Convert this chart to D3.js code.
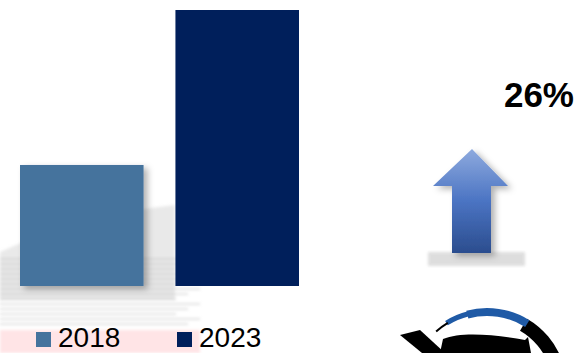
<!DOCTYPE html>
<html lang="en">
<head>
  <meta charset="UTF-8">
  <title>2018 vs 2023</title>
  <script src="https://d3js.org/d3.v7.min.js"></script>
  <style>
    body { margin: 0; background: #fff; font-family: "Liberation Sans", Arial, sans-serif; }
    svg { display: block; }
  </style>
</head>
<body>
  <svg id="chart" width="578" height="353"></svg>

  <script>
    // data (no axis shown, relative index values)
    const years = ["2018", "2023"];
    const values = [100, 126];
    const colors = ["#45739d", "#001f5b"];
    const changeLabel = "26%";

    const svg = d3.select("#chart");
    const defs = svg.append("defs");

    // soft shadow for bars and arrow
    const shadow = defs.append("filter").attr("id", "shadow")
      .attr("x", "-20%").attr("y", "-20%").attr("width", "150%").attr("height", "150%");
    shadow.append("feDropShadow")
      .attr("dx", 4).attr("dy", 3).attr("stdDeviation", 3)
      .attr("flood-color", "#000").attr("flood-opacity", 0.3);

    const blur = defs.append("filter").attr("id", "blur");
    blur.append("feGaussianBlur").attr("stdDeviation", 1.5);

    // faded background picture behind the bars (grey/red streaks)
    const bg = svg.append("g").attr("filter", "url(#blur)");
    bg.append("path")
      .attr("d", "M0,252 Q80,215 175,205 L175,300 L0,300 Z")
      .attr("fill", "#d4d4d4").attr("opacity", 0.5);
    d3.range(0, 14).forEach(i => {
      bg.append("rect")
        .attr("x", 0).attr("y", 258 + i * 5)
        .attr("width", 200 - (i % 3) * 12).attr("height", 2)
        .attr("fill", "#b8b8b8").attr("opacity", 0.4);
    });
    bg.append("rect")
      .attr("x", 0).attr("y", 330).attr("width", 200).attr("height", 23)
      .attr("fill", "#ffc4c8").attr("opacity", 0.45);

    const x = d3.scaleBand()
      .domain(years)
      .range([20, 299])
      .paddingInner(0.205)
      .paddingOuter(0);

    const y = d3.scaleLinear()
      .domain([79.7, 126])
      .range([286, 10]);

    svg.append("g").selectAll("rect")
      .data(years)
      .join("rect")
      .attr("x", d => x(d))
      .attr("y", (d, i) => y(values[i]))
      .attr("width", x.bandwidth())
      .attr("height", (d, i) => y.range()[0] - y(values[i]))
      .attr("fill", (d, i) => colors[i])
      .attr("filter", (d, i) => i === 0 ? "url(#shadow)" : null);

    // legend
    const legend = svg.append("g");
    const legendX = [36, 177];
    years.forEach((key, i) => {
      legend.append("rect")
        .attr("x", legendX[i]).attr("y", 332)
        .attr("width", 15).attr("height", 15)
        .attr("fill", colors[i]);
      legend.append("text")
        .attr("x", legendX[i] + 22).attr("y", 347)
        .attr("font-size", 28)
        .attr("fill", "#000")
        .text(key);
    });

    // change label
    svg.append("text")
      .attr("x", 574).attr("y", 107)
      .attr("text-anchor", "end")
      .attr("font-size", 35)
      .attr("font-weight", "bold")
      .attr("fill", "#000")
      .text(changeLabel);

    // up arrow with gradient
    const grad = defs.append("linearGradient").attr("id", "arrowGrad")
      .attr("x1", 0).attr("y1", 0).attr("x2", 0).attr("y2", 1);
    grad.append("stop").attr("offset", "0%").attr("stop-color", "#8eaade");
    grad.append("stop").attr("offset", "50%").attr("stop-color", "#4b74c3");
    grad.append("stop").attr("offset", "100%").attr("stop-color", "#2b4d8e");

    svg.append("rect")
      .attr("x", 428).attr("y", 252).attr("width", 97).attr("height", 14)
      .attr("fill", "#d0d0d0").attr("filter", "url(#blur)").attr("opacity", 0.7);

    svg.append("path")
      .attr("d", "M472,149 L508,186 L491,186 L491,253 L452,253 L452,186 L433,186 Z")
      .attr("fill", "url(#arrowGrad)")
      .attr("filter", "url(#shadow)");

    // partial logo at bottom right (clipped by the window edge)
    const logo = svg.append("g").attr("transform", "translate(487,388)");
    const ring = d3.arc();
    const deg = Math.PI / 180;
    logo.append("path")
      .attr("d", ring({innerRadius: 66, outerRadius: 80, startAngle: 30 * deg, endAngle: 110 * deg}))
      .attr("fill", "#000");
    logo.append("path")
      .attr("d", ring({innerRadius: 72, outerRadius: 80, startAngle: -15 * deg, endAngle: 32 * deg}))
      .attr("fill", "#1f5aa6");
    logo.append("path")
      .attr("d", ring({innerRadius: 74, outerRadius: 79, startAngle: -32 * deg, endAngle: -14 * deg}))
      .attr("fill", "#1f5aa6");
    logo.append("path")
      .attr("d", ring({innerRadius: 75, outerRadius: 77, startAngle: -42 * deg, endAngle: -31 * deg}))
      .attr("fill", "#000");
    // inner swoosh
    logo.append("path")
      .attr("d", "M-44,-49 C-25,-57 10,-53 38,-48 L41,-51 L44,-35 L-47,-35 Z")
      .attr("fill", "#000");
    // left diagonal stroke
    logo.append("path")
      .attr("d", "M-87,-53 L-67,-58 L-42,-35 L-65,-35 Z")
      .attr("fill", "#000");
  </script>
</body>
</html>
